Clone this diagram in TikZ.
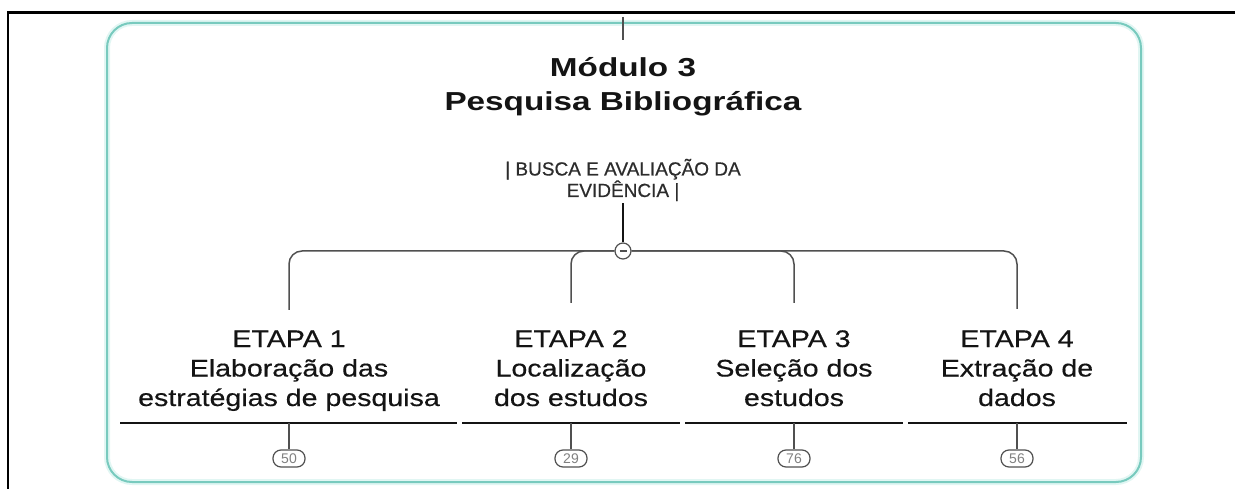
\documentclass[tikz,border=0pt]{standalone}
\usepackage{fontspec}
\setmainfont{Liberation Sans}
\newfontfamily\titlefont[FakeStretch=1.28]{Liberation Sans}
\newfontfamily\etapafont[FakeStretch=1.19,FakeBold=0.4]{Liberation Sans}
\newfontfamily\subfont[FakeBold=0.6]{Liberation Sans}
\definecolor{boxteal}{RGB}{120,202,190}
\definecolor{halo}{RGB}{225,246,243}
\definecolor{ink}{RGB}{20,20,20}
\definecolor{linegray}{RGB}{80,80,80}
\tikzset{
  frameline/.style={line width=2.5pt, black},
  modbox/.style={line width=2pt, draw=boxteal, rounded corners=25pt},
  titletext/.style={font=\titlefont\bfseries\fontsize{26}{33.5}\selectfont, text=ink, align=center, inner sep=0pt},
  subtext/.style={font=\subfont\fontsize{19}{21.5}\selectfont, text=ink!90, align=center, inner sep=0pt},
  etapatext/.style={font=\etapafont\fontsize{24}{29.5}\selectfont, text=ink, align=center, inner sep=0pt},
  btn/.style={circle, draw=linegray, line width=1.2pt, fill=white, minimum size=16pt, inner sep=0pt},
  stem/.style={line width=2.8pt, ink},
  bus/.style={line width=1.5pt, linegray, rounded corners=13pt},
  uline/.style={line width=2pt, ink},
  tick/.style={line width=1.2pt, linegray},
  badge/.style={draw=linegray, line width=1.2pt, rounded corners=8pt, minimum width=32pt, minimum height=17pt, inner sep=0pt, font=\fontsize{14}{14}\selectfont, text=gray}
}
\begin{document}
\begin{tikzpicture}[x=1pt,y=-1pt]
\useasboundingbox (0,0) rectangle (1235,489);
% outer black border
\draw[frameline] (8,489) -- (8,12.5) -- (1235,12.5);
% module box
\draw[line width=6pt, halo, rounded corners=25pt] (107,23) rectangle (1141,482);
\draw[modbox] (107,23) rectangle (1141,482);
% top tick
\coordinate (tt) at (623,17);
\coordinate (tb) at (623,40);
\draw[tick] (tt) -- (tb);
% titles (base anchor = baseline of last line)
\node[titletext, anchor=base] (title) at (623,110.5) {Módulo 3\\Pesquisa Bibliográfica};
\node[subtext, anchor=base] (sub) at (623,197) {| BUSCA E AVALIAÇÃO DA\\EVIDÊNCIA |};
% collapse button
\node[btn] (btn) at (623,251) {};
\draw[line width=1.4pt, linegray] ([xshift=-3.5pt]btn.center) -- ([xshift=3.5pt]btn.center);
\draw[stem] ([yshift=-2pt]sub.south) -- (btn.north);
% etapas
\node[etapatext, anchor=base] (e1) at (289,406) {ETAPA 1\\Elaboração das\\estratégias de pesquisa};
\node[etapatext, anchor=base] (e2) at (571,406) {ETAPA 2\\Localização\\dos estudos};
\node[etapatext, anchor=base] (e3) at (794,406) {ETAPA 3\\Seleção dos\\estudos};
\node[etapatext, anchor=base] (e4) at (1017,406) {ETAPA 4\\Extração de\\dados};
\coordinate (e1in) at (289,310);
\coordinate (e2in) at (571,303);
\coordinate (e3in) at (794,303);
\coordinate (e4in) at (1017,309);
\draw[bus] (btn.west) -| (e1in);
\draw[bus] (btn.west) -| (e2in);
\draw[bus] (btn.east) -| (e3in);
\draw[bus] (btn.east) -| (e4in);
% underlines
\coordinate (u1a) at (120,423); \coordinate (u1b) at (457,423); \coordinate (u1c) at (289,423);
\coordinate (u2a) at (462,423); \coordinate (u2b) at (680,423); \coordinate (u2c) at (571,423);
\coordinate (u3a) at (685,423); \coordinate (u3b) at (903,423); \coordinate (u3c) at (794,423);
\coordinate (u4a) at (908,423); \coordinate (u4b) at (1127,423); \coordinate (u4c) at (1017,423);
\draw[uline] (u1a) -- (u1b);
\draw[uline] (u2a) -- (u2b);
\draw[uline] (u3a) -- (u3b);
\draw[uline] (u4a) -- (u4b);
% badges
\node[badge] (b1) at (289,458.5) {50};
\node[badge] (b2) at (571,458.5) {29};
\node[badge] (b3) at (794,458.5) {76};
\node[badge] (b4) at (1017,458.5) {56};
\draw[tick] (u1c) -- (b1.north);
\draw[tick] (u2c) -- (b2.north);
\draw[tick] (u3c) -- (b3.north);
\draw[tick] (u4c) -- (b4.north);
\end{tikzpicture}
\end{document}
